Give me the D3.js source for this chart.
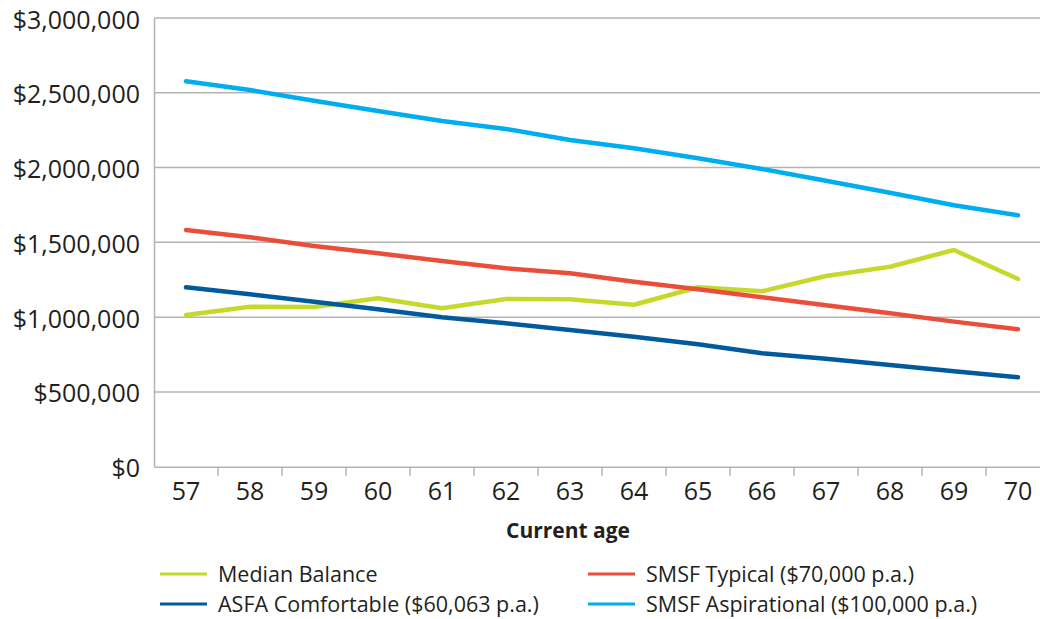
<!DOCTYPE html>
<html>
<head>
<meta charset="utf-8">
<script src="https://cdn.jsdelivr.net/npm/d3@7"></script>
<style>
  html, body { margin: 0; padding: 0; background: #fff; overflow: hidden; }
  svg { display: block; }
  text { font-family: "Open Sans", "Noto Sans", sans-serif; fill: #231f20; }
</style>
</head>
<body>
<svg id="chart" width="1040" height="619"></svg>
<script>
const ages = [57, 58, 59, 60, 61, 62, 63, 64, 65, 66, 67, 68, 69, 70];
const medianBalance = [1014000, 1070000, 1068000, 1126000, 1059000, 1121000, 1119000, 1083000, 1200000, 1173000, 1275000, 1337000, 1449000, 1255000];
const asfaComfortable = [1200000, 1153000, 1103000, 1052000, 999000, 959000, 914000, 869000, 818000, 758000, 722000, 680000, 638000, 598000];
const smsfTypical = [1583000, 1534000, 1476000, 1427000, 1375000, 1327000, 1293000, 1237000, 1186000, 1133000, 1079000, 1026000, 970000, 919000];
const smsfAspirational = [2577000, 2518000, 2447000, 2378000, 2311000, 2258000, 2184000, 2129000, 2062000, 1990000, 1912000, 1832000, 1748000, 1681000];
const yTicks = [0, 500000, 1000000, 1500000, 2000000, 2500000, 3000000];
const seriesNames = ["Median Balance", "ASFA Comfortable ($60,063 p.a.)", "SMSF Typical ($70,000 p.a.)", "SMSF Aspirational ($100,000 p.a.)"];
const seriesColors = ["#c5d92d", "#005a9c", "#e94e3b", "#00aeef"];
const xTitle = "Current age";

const series = [
  { name: seriesNames[0], values: medianBalance, color: seriesColors[0] },
  { name: seriesNames[1], values: asfaComfortable, color: seriesColors[1] },
  { name: seriesNames[2], values: smsfTypical, color: seriesColors[2] },
  { name: seriesNames[3], values: smsfAspirational, color: seriesColors[3] }
];

const svg = d3.select("#chart");
const mLeft = 154, mRight = 1050, mTop = 18, mBottom = 466.7;

const x = d3.scaleBand().domain(ages).range([mLeft, mRight]).padding(0);
const y = d3.scaleLinear().domain([0, 3000000]).range([mBottom, mTop]);

const grid = "#b3b3b3";

// gridlines
svg.append("g").selectAll("line").data(yTicks.filter(d => d > 0)).join("line")
  .attr("x1", mLeft).attr("x2", mRight)
  .attr("y1", d => y(d)).attr("y2", d => y(d))
  .attr("stroke", grid).attr("stroke-width", 1.5);

// y axis
const yAxis = d3.axisLeft(y).tickValues(yTicks).tickSize(0).tickPadding(14)
  .tickFormat(d => "$" + d3.format(",")(d));
const yg = svg.append("g").attr("transform", `translate(${mLeft},0)`).call(yAxis);
yg.select(".domain").attr("stroke", grid).attr("stroke-width", 1.5);
yg.selectAll("text").attr("font-size", 25).attr("font-family", "'Open Sans', sans-serif").attr("fill", "#231f20").attr("dy", "0.4em");

// x axis
const xAxis = d3.axisBottom(x).tickSize(0).tickPadding(16);
const xg = svg.append("g").attr("transform", `translate(0,${mBottom})`).call(xAxis);
xg.select(".domain").attr("stroke", grid).attr("stroke-width", 1.5);
xg.selectAll("text").attr("font-size", 25).attr("font-family", "'Open Sans', sans-serif").attr("fill", "#231f20");
xg.append("g").selectAll("line").data(ages.slice(1)).join("line")
  .attr("x1", d => x(d)).attr("x2", d => x(d))
  .attr("y1", 0).attr("y2", 9)
  .attr("stroke", grid).attr("stroke-width", 1.5);

// axis title
svg.append("text")
  .attr("x", 568).attr("y", 538)
  .attr("text-anchor", "middle")
  .attr("font-size", 21).attr("font-weight", "bold")
  .text(xTitle);

// lines
const line = d3.line().x((d, i) => x(ages[i]) + x.bandwidth() / 2).y(d => y(d));
svg.append("g").selectAll("path").data(series).join("path")
  .attr("d", s => line(s.values))
  .attr("fill", "none")
  .attr("stroke", s => s.color)
  .attr("stroke-width", 4.5)
  .attr("stroke-linejoin", "round")
  .attr("stroke-linecap", "round");

// legend
const legendPos = [
  { x: 160, y: 574 },
  { x: 160, y: 604 },
  { x: 588, y: 574 },
  { x: 588, y: 604 }
];
const lg = svg.append("g").selectAll("g").data(series).join("g")
  .attr("transform", (d, i) => `translate(${legendPos[i].x},${legendPos[i].y})`);
lg.append("line").attr("x1", 0).attr("x2", 47).attr("y1", 0).attr("y2", 0)
  .attr("stroke", d => d.color).attr("stroke-width", 3);
lg.append("text").attr("x", 58).attr("y", 0).attr("dy", "0.35em")
  .attr("font-size", 21.5).text(d => d.name);
</script>
</body>
</html>
